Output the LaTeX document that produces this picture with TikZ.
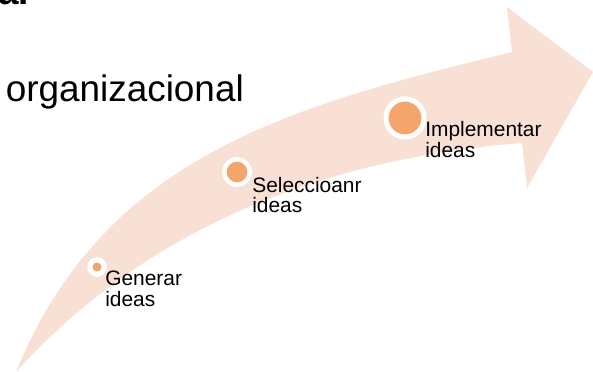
\documentclass[tikz,border=0pt]{standalone}
\usepackage{fontspec}
\setmainfont{Liberation Sans}
\usetikzlibrary{positioning}

\definecolor{arrowPeach}{HTML}{F9E0D5}
\definecolor{dotOrange}{HTML}{F3A56B}

\begin{document}
\begin{tikzpicture}[x=0.02cm, y=-0.02cm,
    ideaDot/.style={circle, fill=dotOrange, draw=white, inner sep=0},
    ideaText/.style={anchor=base west, inner sep=0, align=left, font=\fontsize{11.9}{11.6}\selectfont}]
                \useasboundingbox (0,0) rectangle (593,372);

                % curved arrow
                \fill[arrowPeach] (16,372) .. controls (104,156) and (290,106) .. (512,52) -- (507,7) -- (593,72) -- (527,188) -- (522,143) .. controls (330,158) and (150,224) .. (16,372) -- cycle;

                \node[anchor=base west, inner sep=0, font=\fontsize{21}{25}\selectfont\bfseries](titleCut) at (-2,5) {a.};
                \node[anchor=base west, inner sep=0, font=\fontsize{21}{25}\selectfont](orgText) at (5.5,101) {organizacional};

                \node[ideaDot, minimum size=0.284cm, line width=0.104cm](genDot) at (97,267) {};
                \node[ideaDot, minimum size=0.51cm, line width=0.09cm](selDot) at (237,172) {};
                \node[ideaDot, minimum size=0.76cm, line width=0.1cm](implDot) at (405,118) {};

                % base anchor sits on the last line
                \node[ideaText](genIdeas) at (105,306) {Generar\\ideas};
                \node[ideaText](selIdeas) at (252,213) {Seleccioanr\\ideas};
                \node[ideaText](implIdeas) at (425,157) {Implementar\\ideas};

\end{tikzpicture}
\end{document}
